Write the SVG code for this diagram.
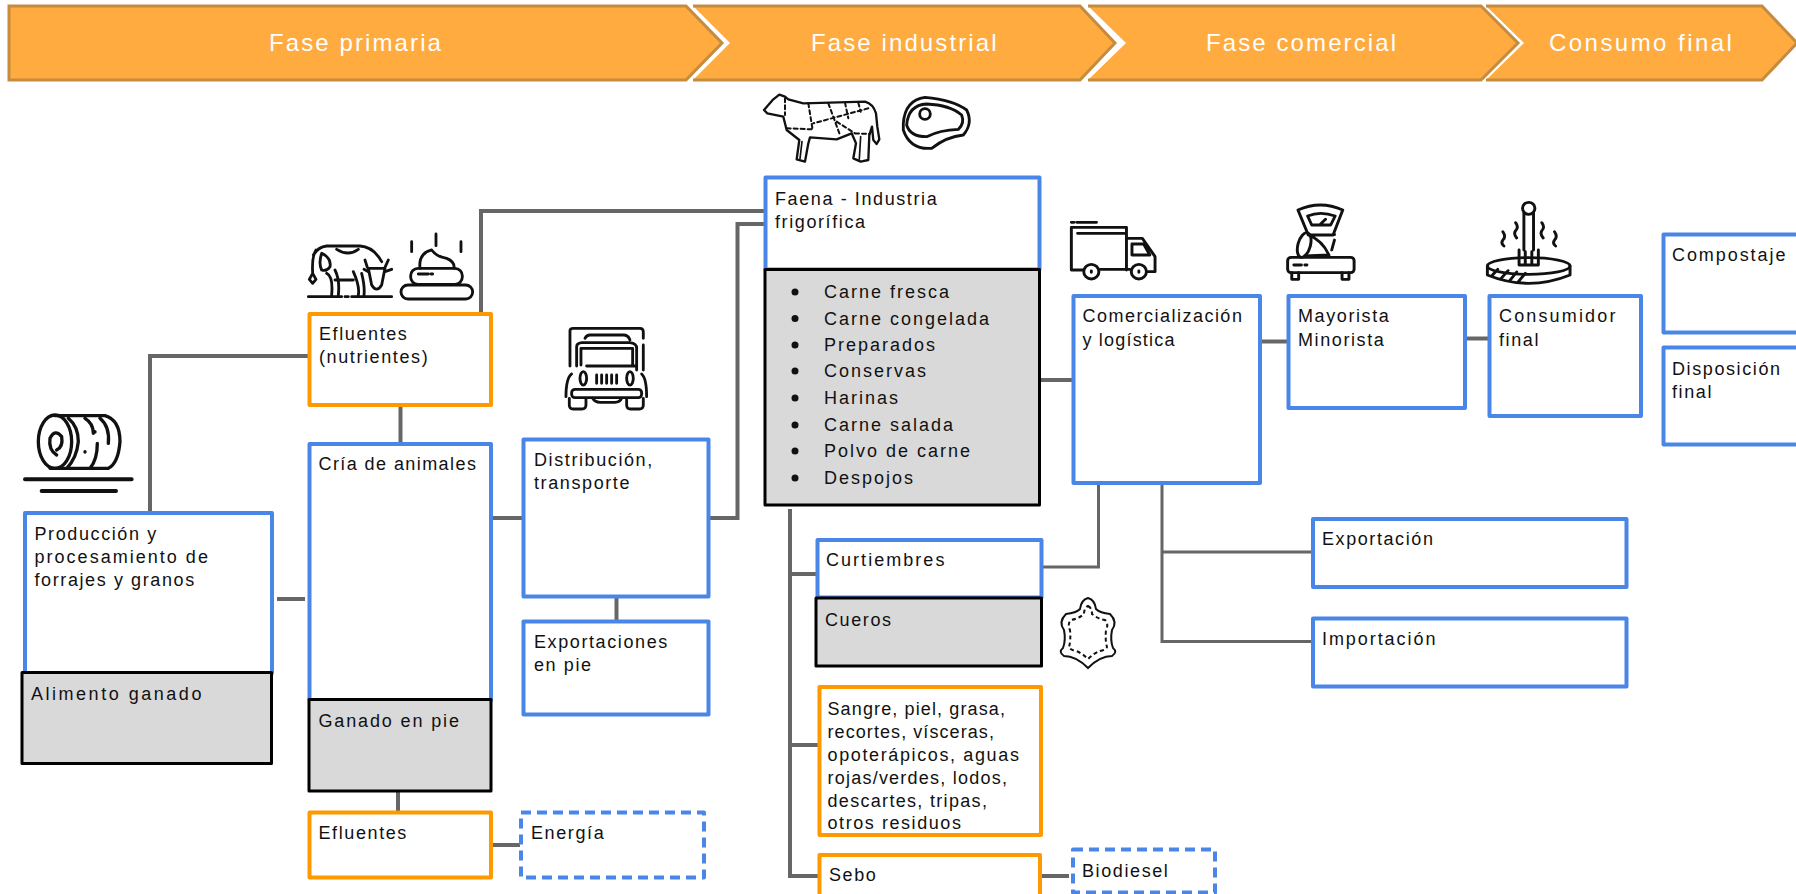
<svg xmlns="http://www.w3.org/2000/svg" width="1796" height="894" viewBox="0 0 1796 894">
<style>
text{font-family:"Liberation Sans",Arial,sans-serif;font-size:18px;letter-spacing:1.6px;fill:#111}
.ban{font-size:24px;letter-spacing:2.1px;fill:#fff}
.li{letter-spacing:2px}
.chev{fill:#FFAB40}
.edge{fill:none;stroke:#C58B3F;stroke-width:3}
.blue,.orange,.dash,.gray{stroke-width:4;stroke-linejoin:round}
.blue{fill:#fff;stroke:#4A86E8}
.orange{fill:#fff;stroke:#FF9900}
.dash{fill:#fff;stroke:#4A86E8;stroke-dasharray:10 6}
.gray{fill:#D9D9D9;stroke:#000;stroke-width:3}
.c{fill:none;stroke:#666;stroke-width:4}
.t{stroke-width:3}
.ic{fill:none;stroke:#111;stroke-width:8.500;stroke-linecap:round;stroke-linejoin:round}
.d{stroke-dasharray:12 9;stroke-width:6}
</style>
<g id="phases">
<g id="phase-primaria"><path class="chev" d="M9 6H686L722 43L686 80H9Z"/><path class="edge" d="M686 6H9V80H686L722 43Z"/><text class="ban" x="269" y="51">Fase primaria</text></g>
<g id="phase-industrial"><path class="chev" d="M693 6H1080L1115 43L1080 80H693L730 43Z"/><path class="edge" d="M693 6H1080L1115 43L1080 80H693"/><text class="ban" x="811" y="51">Fase industrial</text></g>
<g id="phase-comercial"><path class="chev" d="M1088 6H1481L1518 43L1481 80H1088L1126 43Z"/><path class="edge" d="M1088 6H1481L1518 43L1481 80H1088"/><text class="ban" x="1206" y="51">Fase comercial</text></g>
<g id="phase-consumo"><path class="chev" d="M1486 6H1762L1797 43L1762 80H1486L1524 43Z"/><path class="edge" d="M1486 6H1762L1797 43L1762 80H1486"/><text class="ban" x="1549" y="51" textLength="185">Consumo final</text></g>
</g>
<g id="connectors">
<path class="c" d="M150 512V356H309"/>
<path class="c" d="M481 312V211H766"/>
<path class="c" d="M709 518H737.500V224H767"/>
<path class="c" d="M400.500 405V443"/>
<path class="c" d="M277 599H305"/>
<path class="c" d="M491 518H522"/>
<path class="c" d="M616.500 597V621"/>
<path class="c" d="M398 791V812"/>
<path class="c" d="M491 845H520"/>
<path class="c" d="M1040 380H1072"/>
<path class="c" d="M1260 341.500H1288"/>
<path class="c" d="M1465 338.500H1489"/>
<path class="c" d="M790 509V876H819M790 574H817M790 745H819"/>
<path class="c t" d="M1041 567H1098.500V483"/>
<path class="c t" d="M1162 483V641.500H1312M1162 552H1312"/>
<path class="c" d="M1040 876H1069"/>
</g>
<g id="node-produccion"><rect class="blue" x="25" y="513" width="247" height="160"/><text x="34.500" y="540">Producción y</text><text x="34.500" y="563" textLength="175">procesamiento de</text><text x="34.500" y="586">forrajes y granos</text></g>
<g id="node-alimento"><rect class="gray" x="22" y="672.500" width="249.500" height="91"/><text x="31" y="700" textLength="172">Alimento ganado</text></g>
<g id="node-efluentes-nutrientes"><rect class="orange" x="309.500" y="314" width="181.500" height="91"/><text x="319" y="340">Efluentes</text><text x="319" y="363">(nutrientes)</text></g>
<g id="node-cria"><rect class="blue" x="309.500" y="444" width="181.500" height="256"/><text x="318.500" y="470" textLength="159">Cría de animales</text></g>
<g id="node-ganado"><rect class="gray" x="309" y="699.500" width="182" height="91.500"/><text x="318.500" y="727" textLength="142">Ganado en pie</text></g>
<g id="node-efluentes"><rect class="orange" x="309.500" y="812.500" width="181.500" height="65"/><text x="318.500" y="839">Efluentes</text></g>
<g id="node-energia"><rect class="dash" x="521" y="812.500" width="183" height="65"/><text x="531" y="839">Energía</text></g>
<g id="node-distribucion"><rect class="blue" x="523.500" y="439.500" width="185" height="157"/><text x="534" y="466">Distribución,</text><text x="534" y="489">transporte</text></g>
<g id="node-exportaciones-pie"><rect class="blue" x="523.500" y="621.500" width="185" height="93"/><text x="534" y="648">Exportaciones</text><text x="534" y="671">en pie</text></g>
<g id="node-faena"><rect class="blue" x="765.500" y="177.500" width="274" height="92"/><text x="775" y="204.500">Faena - Industria</text><text x="775" y="227.500">frigorífica</text></g>
<g id="node-productos"><rect class="gray" x="765" y="269.500" width="274.500" height="235.500"/>
<g fill="#111"><circle cx="795" cy="292" r="3.500"/><circle cx="795" cy="318.500" r="3.500"/><circle cx="795" cy="345" r="3.500"/><circle cx="795" cy="371" r="3.500"/><circle cx="795" cy="398" r="3.500"/><circle cx="795" cy="425" r="3.500"/><circle cx="795" cy="451" r="3.500"/><circle cx="795" cy="478" r="3.500"/></g>
<g class="list"><text class="li" x="824" y="298">Carne fresca</text><text class="li" x="824" y="325">Carne congelada</text><text class="li" x="824" y="351">Preparados</text><text class="li" x="824" y="377">Conservas</text><text class="li" x="824" y="404">Harinas</text><text class="li" x="824" y="431">Carne salada</text><text class="li" x="824" y="457">Polvo de carne</text><text class="li" x="824" y="484">Despojos</text></g></g>
<g id="node-curtiembres"><rect class="blue" x="817.500" y="540" width="224" height="57.500"/><text x="826" y="566" textLength="120">Curtiembres</text></g>
<g id="node-cueros"><rect class="gray" x="816" y="598" width="225.500" height="68"/><text x="825" y="626">Cueros</text></g>
<g id="node-sangre"><rect class="orange" x="819.500" y="687" width="221.500" height="148"/><text x="827.500" y="715" textLength="179">Sangre, piel, grasa,</text><text x="827.500" y="738" textLength="168">recortes, vísceras,</text><text x="827.500" y="761" textLength="193">opoterápicos, aguas</text><text x="827.500" y="784" textLength="181">rojas/verdes, lodos,</text><text x="827.500" y="807" textLength="161">descartes, tripas,</text><text x="827.500" y="829" textLength="135">otros residuos</text></g>
<g id="node-sebo"><rect class="orange" x="819.500" y="855" width="220.500" height="60"/><text x="829" y="881">Sebo</text></g>
<g id="node-biodiesel"><rect class="dash" x="1073" y="849.500" width="142" height="43"/><text x="1082" y="877">Biodiesel</text></g>
<g id="node-comercializacion"><rect class="blue" x="1073.500" y="296" width="186.500" height="187"/><text x="1082.500" y="322" textLength="161">Comercialización</text><text x="1082.500" y="346" textLength="93.500">y logística</text></g>
<g id="node-mayorista"><rect class="blue" x="1288.500" y="296" width="176.500" height="112"/><text x="1298" y="322">Mayorista</text><text x="1298" y="346">Minorista</text></g>
<g id="node-consumidor"><rect class="blue" x="1489.500" y="296" width="151.500" height="120"/><text x="1499" y="322" textLength="118">Consumidor</text><text x="1499" y="346">final</text></g>
<g id="node-compostaje"><rect class="blue" x="1663.500" y="234.500" width="150" height="98"/><text x="1672" y="261" textLength="115">Compostaje</text></g>
<g id="node-disposicion"><rect class="blue" x="1663.500" y="347.500" width="150" height="97"/><text x="1672" y="375">Disposición</text><text x="1672" y="398">final</text></g>
<g id="node-exportacion"><rect class="blue" x="1313" y="519" width="313.500" height="68"/><text x="1322" y="545" textLength="112.500">Exportación</text></g>
<g id="node-importacion"><rect class="blue" x="1313" y="618.500" width="313.500" height="68"/><text x="1322" y="645" textLength="115">Importación</text></g>
<g id="icon-res" class="ic" transform="translate(740 80) scale(.3333)" style="stroke-width:7">
<path d="M72 90L100 58 118 44 135 50 145 58 190 70 375 65Q400 72 408 100L412 140 418 178 410 192 400 180 396 140 388 165 385 240 362 245 340 235 348 190 335 160 290 178 210 172 205 190 195 245 170 238 178 180 140 150 130 110 82 100Z"/>
<path d="M186 185L180 236M362 170L358 238" style="stroke-width:5"/>
<path class="d" d="M205 70L218 150M265 70L300 165M315 68L325 115M355 68L362 95M385 85L220 130M140 145L218 148M135 55L135 105M290 125L345 160M345 160L390 162"/>
</g>
<g id="icon-bife" class="ic" transform="translate(740 80) scale(.3333)">
<path d="M490 130Q495 60 555 52Q640 60 680 90Q700 130 670 165Q620 170 575 205Q510 210 490 150Z"/>
<path d="M500 135Q505 75 560 72Q630 75 665 105Q675 130 655 148Q600 150 560 170Q510 170 500 135Z"/>
<circle cx="555" cy="102" r="16"/>
</g>
<g id="icon-vaca-heces" class="ic" transform="translate(290 230) scale(.3333)">
<path d="M70 75Q85 50 110 48H210Q250 50 275 95M140 58Q175 80 205 58M78 60Q65 80 68 130M68 130L58 148 68 160 78 148ZM95 70Q125 85 120 110Q110 125 95 120Q85 100 95 70M110 130Q130 140 125 195M135 120Q150 150 145 195M135 150H190M190 125Q210 170 205 195M215 130Q225 170 222 195M55 200H155M165 200H175M185 200H305M235 115H285L275 165Q260 190 245 165ZM225 90L232 112M295 90L285 112M222 118L235 125M305 118L285 125"/>
<rect x="333" y="165" width="215" height="42" rx="21"/><rect x="362" y="115" width="155" height="48" rx="22"/>
<path d="M390 115Q385 70 425 60Q440 80 470 85Q495 95 492 115M365 35V65M438 12V47M513 35V65M385 132H415M423 132H428"/>
</g>
<g id="icon-camion-frente" class="ic" transform="translate(290 230) scale(.3333)">
<path d="M840 408V302Q840 295 850 295H1050Q1060 295 1060 305V325M1060 345V420M885 325Q890 315 900 315H1000Q1015 315 1020 330M860 408V350Q860 340 875 338H1020Q1040 340 1040 355V420M873 405V355H1028V408M890 408H1040"/>
<ellipse cx="880" cy="445" rx="10" ry="20"/><ellipse cx="1020" cy="445" rx="10" ry="20"/>
<path d="M920 435V460M935 435V460M950 435V460M965 435V460M980 435V460M845 432Q828 445 828 500M1055 432Q1070 445 1070 500"/>
<rect x="845" y="478" width="210" height="25" rx="10"/>
<path d="M838 505V525Q838 537 850 537H875Q888 537 888 525V505M1010 505V525Q1010 537 1022 537H1048Q1060 537 1060 525V505M908 505Q915 517 930 517H975Q990 517 995 505"/>
</g>
<g id="icon-fardo" class="ic" transform="translate(10 400) scale(.3333)" style="stroke-width:10">
<ellipse cx="135" cy="125" rx="50" ry="80"/>
<path d="M135 47H285Q330 60 330 125Q325 190 295 205H120M140 165Q115 150 120 115Q135 85 155 110Q160 140 140 150M175 55Q205 80 205 125Q200 175 170 205M225 55Q250 70 250 100M270 55Q300 80 295 130M262 130Q262 180 240 205M255 95V96M225 155V156"/>
<path style="stroke-width:12" d="M45 238H365M95 273H318"/>
</g>
<g id="icon-cuero" fill="none" stroke="#111" stroke-width="2">
<path d="M1088 598Q1095 600 1096 609Q1100 613 1110 614Q1118 622 1112 630Q1110 640 1113 648Q1118 652 1112 656Q1100 656 1088 668Q1076 656 1064 656Q1058 652 1063 648Q1066 640 1064 630Q1058 622 1066 614Q1076 613 1080 609Q1081 600 1088 598Z"/>
<path stroke-dasharray="4 3" d="M1088 606Q1092 608 1092 614Q1098 619 1105 620Q1109 624 1106 630Q1105 640 1107 647Q1106 650 1100 651Q1094 653 1088 659Q1082 653 1076 651Q1070 650 1069 647Q1071 640 1070 630Q1067 624 1071 620Q1078 619 1084 614Q1084 608 1088 606Z"/>
</g>
<g id="icon-camion" class="ic" transform="translate(1050 190) scale(.3444 .3333)">
<path d="M62 97H70M78 97H135M62 240V112H222V240M80 130H215M222 145H268L305 200V245H280M238 162H272L290 195H238ZM62 240H95M145 238H232"/>
<circle cx="120" cy="245" r="22"/><circle cx="258" cy="245" r="22"/><path d="M120 243V247M258 243V247"/>
</g>
<g id="icon-balanza" class="ic" transform="translate(1050 190) scale(.3444 .3333)">
<path d="M720 60Q785 30 850 60L822 135H750ZM748 78Q785 62 828 78L815 105H760ZM785 103L800 88M750 135Q790 150 810 195L740 198M826 133V134M826 150L818 180M708 225H730M740 225H746"/>
<ellipse cx="738" cy="165" rx="18" ry="38" transform="rotate(15 738 165)"/>
<rect x="690" y="202" width="193" height="46" rx="10"/>
<path d="M702 248V268H722V248M848 248V268H868V248"/>
</g>
<g id="icon-tenedor" class="ic" transform="translate(1050 190) scale(.3444 .3333)">
<ellipse cx="1390" cy="228" rx="120" ry="25"/>
<path d="M1270 228V255Q1390 305 1510 255V228M1285 255L1300 238M1310 265L1330 242M1335 272L1355 246M1360 275L1380 250"/>
<circle cx="1390" cy="55" r="18"/><path d="M1376 68V180M1404 68V180M1362 180V225H1418V180M1380 185V225M1399 185V225M1315 125Q1325 140 1315 150Q1308 160 1318 168M1352 98Q1362 112 1352 122Q1345 132 1355 144M1428 98Q1438 112 1428 122Q1422 132 1432 144M1465 125Q1475 140 1465 150Q1458 160 1468 168"/>
</g>
</svg>
